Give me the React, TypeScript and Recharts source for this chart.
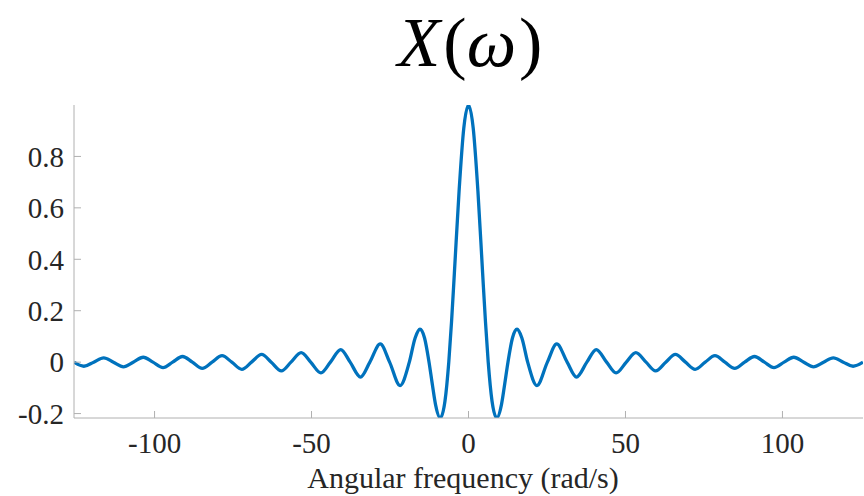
import { LineChart, Line, XAxis, YAxis } from "recharts";

// angular frequency samples (rad/s)
const omega = [
  -125.66, -122.5, -119.38, -116.2, -113.1, -109.9, -106.81, -103.6, -100.53, -97.3,
  -94.25, -91.1, -87.96, -84.8, -81.68, -78.5, -75.4, -72.2, -69.12, -65.9,
  -62.83, -59.6, -56.55, -53.3, -50.27, -47.0, -43.98, -40.7, -37.7, -34.4,
  -31.42, -28.1, -25.13, -21.8, -18.85, -17.0, -15.45, -14.0, -12.57, -11.5,
  -10.5, -9.0, -7.5, -6.28, -5.4, -4.5, -3.0, -1.5, 0,
  1.5, 3.0, 4.5, 5.4, 6.28, 7.5, 9.0, 10.5, 11.5, 12.57,
  14.0, 15.45, 17.0, 18.85, 21.8, 25.13, 28.1, 31.42, 34.4, 37.7,
  40.7, 43.98, 47.0, 50.27, 53.3, 56.55, 59.6, 62.83, 65.9, 69.12,
  72.2, 75.4, 78.5, 81.68, 84.8, 87.96, 91.1, 94.25, 97.3, 100.53,
  103.6, 106.81, 109.9, 113.1, 116.2, 119.38, 122.5, 125.66,
];

// X(omega) values
const spectrum = [
  0, -0.016, 0, 0.017, 0, -0.018, 0, 0.019, 0, -0.021,
  0, 0.022, 0, -0.024, 0, 0.025, 0, -0.028, 0, 0.03,
  0, -0.034, 0, 0.037, 0, -0.042, 0, 0.049, 0, -0.058,
  0, 0.071, 0, -0.091, 0, 0.094, 0.128, 0.094, 0, -0.088,
  -0.165, -0.217, -0.152, 0, 0.158, 0.346, 0.665, 0.91, 1.0,
  0.91, 0.665, 0.346, 0.158, 0, -0.152, -0.217, -0.165, -0.088, 0,
  0.094, 0.128, 0.094, 0, -0.091, 0, 0.071, 0, -0.058, 0,
  0.049, 0, -0.042, 0, 0.037, 0, -0.034, 0, 0.03, 0,
  -0.028, 0, 0.025, 0, -0.024, 0, 0.022, 0, -0.021, 0,
  0.019, 0, -0.018, 0, 0.017, 0, -0.016, 0,
];

const xTicks = [-100, -50, 0, 50, 100];
const yTicks = [-0.2, 0, 0.2, 0.4, 0.6, 0.8];

const data = omega.map((w, i) => ({ w, x: spectrum[i] }));

const axisColor = "#b0b0b0";
const textColor = "#262626";
const serif = "'Liberation Serif', 'Times New Roman', serif";
const tickStyle = { fill: textColor, fontSize: 29, fontFamily: serif };

export default function App() {
  return (
    <div style={{ position: "absolute", left: 0, top: 0, width: 864, height: 496, background: "#fff" }}>
      <LineChart width={864} height={496} data={data} margin={{ top: 105, right: 1, bottom: 0, left: 0 }}>
        <XAxis
          xAxisId="bottom"
          dataKey="w"
          type="number"
          domain={[-125.66, 125.66]}
          ticks={xTicks}
          allowDataOverflow
          height={78}
          stroke={axisColor}
          tickSize={-7}
          tickMargin={21}
          tick={tickStyle}
        />
        <XAxis
          xAxisId="top"
          orientation="top"
          type="number"
          domain={[-125.66, 125.66]}
          ticks={xTicks}
          allowDataOverflow
          height={0}
          stroke={axisColor}
          tickSize={-7}
          tick={false}
        />
        <YAxis
          yAxisId="left"
          type="number"
          domain={[-0.2172, 1]}
          ticks={yTicks}
          allowDataOverflow
          width={74}
          stroke={axisColor}
          tickSize={-7}
          tickMargin={17}
          tick={tickStyle}
        />
        <YAxis
          yAxisId="right"
          orientation="right"
          type="number"
          domain={[-0.2172, 1]}
          ticks={yTicks}
          allowDataOverflow
          width={0}
          stroke={axisColor}
          tickSize={-7}
          tick={false}
        />
        <Line
          xAxisId="bottom"
          yAxisId="left"
          type="monotone"
          dataKey="x"
          stroke="#0072BD"
          strokeWidth={3.3}
          dot={false}
          isAnimationActive={false}
        />
      </LineChart>
      <svg width={864} height={496} style={{ position: "absolute", left: 0, top: 0, pointerEvents: "none" }}>
        <text x={470} y={66} textAnchor="middle" fontFamily={serif} fontSize={70} fill="#000">
          <tspan fontStyle="italic">X</tspan>
          <tspan dx={3}>(</tspan>
          <tspan fontStyle="italic">ω</tspan>
          <tspan dx={3}>)</tspan>
        </text>
        <text x={463} y={488} textAnchor="middle" fontFamily={serif} fontSize={30} fill={textColor}>
          Angular frequency (rad/s)
        </text>
      </svg>
    </div>
  );
}
